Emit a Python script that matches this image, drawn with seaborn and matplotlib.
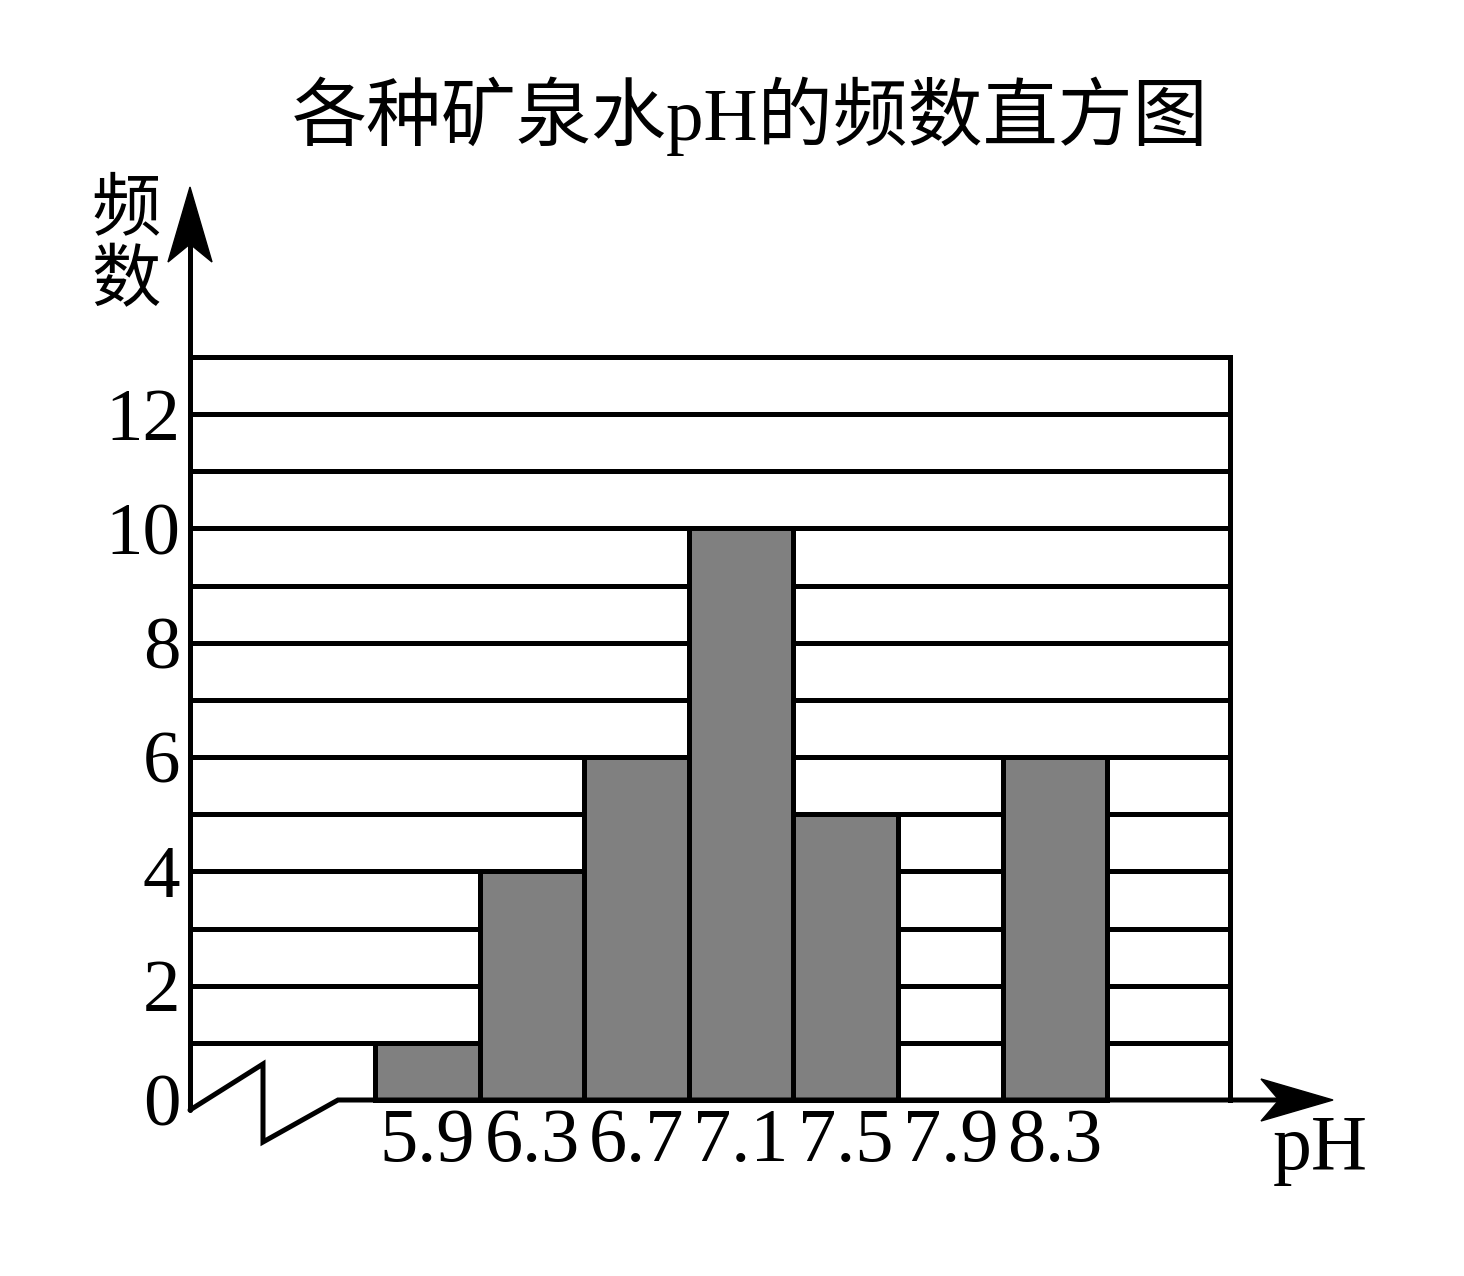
import pandas as pd
import matplotlib
matplotlib.use('Agg')
import matplotlib.pyplot as plt
import seaborn as sns
from matplotlib.patches import Polygon
from matplotlib.lines import Line2D

# Data
ph_centers = [5.9, 6.3, 6.7, 7.1, 7.5, 7.9, 8.3]
counts = [1, 4, 6, 10, 5, 0, 6]
bin_edges = [5.7, 6.1, 6.5, 6.9, 7.3, 7.7, 8.1, 8.5]
x_labels = ['5.9', '6.3', '6.7', '7.1', '7.5', '7.9', '8.3']
y_ticks = [0, 2, 4, 6, 8, 10, 12]
grid_levels = list(range(1, 14))

title = '各种矿泉水pH的频数直方图'
ylabel_chars = ['频', '数']
xlabel = 'pH'

sns.set_style('white')
fonts = ['Liberation Serif', 'Noto Sans CJK SC', 'DejaVu Sans']
plt.rcParams['font.family'] = fonts
plt.rcParams['text.color'] = 'black'
plt.rcParams['xtick.color'] = 'black'
plt.rcParams['ytick.color'] = 'black'

W, H = 1464, 1276
LW = 3.6  # about 5 px


def fx(px):
    return px / W


def fy(py):
    return 1 - py / H


fig = plt.figure(figsize=(W / 100, H / 100), dpi=100)
ax = fig.add_axes([fx(190), fy(1100), fx(1230) - fx(190), fy(357) - fy(1100)])

df = pd.DataFrame({'pH': ph_centers, 'count': counts})
sns.histplot(data=df, x='pH', weights='count', bins=bin_edges, color='#808080',
             edgecolor='black', linewidth=LW, alpha=1, ax=ax, zorder=2)
for p in ax.patches:
    p.set_clip_on(False)

ax.set_xlim(4.992, 8.97)
ax.set_ylim(0, 13)

# horizontal rules every unit
ax.hlines(grid_levels, 4.992, 8.97, colors='black', linewidth=LW, zorder=0.5, clip_on=False)

ax.set_xticks(ph_centers)
ax.set_xticklabels(x_labels)
ax.set_yticks(y_ticks)
ax.tick_params(axis='x', length=0, pad=6, labelsize=55, labelcolor='black')
ax.tick_params(axis='y', length=0, pad=7, labelsize=54, labelcolor='black')
ax.set_xlabel('')
ax.set_ylabel('')

for side in ['left', 'bottom']:
    ax.spines[side].set_visible(False)
for side in ['right', 'top']:
    ax.spines[side].set_visible(True)
    ax.spines[side].set_linewidth(LW)
    ax.spines[side].set_color('black')

# y axis with arrow
fig.add_artist(Line2D([fx(190), fx(190)], [fy(1110), fy(245)], color='black',
                      linewidth=LW, transform=fig.transFigure))
fig.add_artist(Polygon([(fx(190), fy(187)), (fx(168), fy(262)), (fx(190), fy(244)),
                        (fx(212), fy(262))], closed=True, color='black',
                       transform=fig.transFigure))

# axis break zigzag and x axis with arrow
fig.add_artist(Line2D([fx(190), fx(263), fx(263), fx(338), fx(1280)],
                      [fy(1110), fy(1064), fy(1142), fy(1100), fy(1100)],
                      color='black', linewidth=LW, transform=fig.transFigure,
                      solid_joinstyle='miter'))
fig.add_artist(Polygon([(fx(1333), fy(1100)), (fx(1261), fy(1079)), (fx(1279), fy(1100)),
                        (fx(1261), fy(1121))], closed=True, color='black',
                       transform=fig.transFigure))

fig.text(fx(750), fy(116), title, fontsize=54, ha='center', va='center',
         family=fonts, color='black')
fig.text(fx(126), fy(212), ylabel_chars[0], fontsize=50, ha='center', va='center',
         family=fonts, color='black')
fig.text(fx(126), fy(284), ylabel_chars[1], fontsize=50, ha='center', va='center',
         family=fonts, color='black')
fig.text(fx(1320), fy(1150), xlabel, fontsize=56, ha='center', va='center',
         family=fonts, color='black')

fig.savefig('out.png', dpi=100)
